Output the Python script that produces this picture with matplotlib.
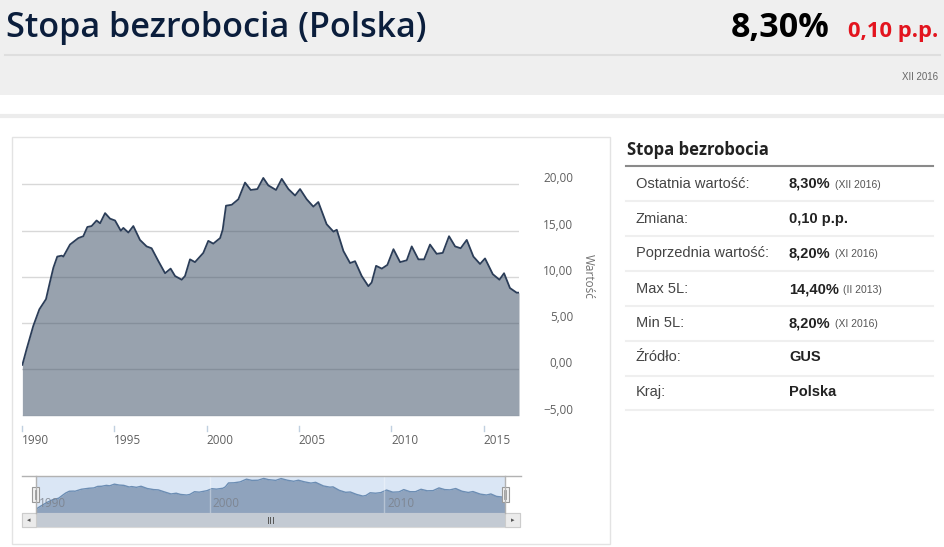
import matplotlib
matplotlib.use("Agg")
import matplotlib.pyplot as plt
from matplotlib.patches import Rectangle
from matplotlib.lines import Line2D
from matplotlib import transforms

W, H = 945, 547

# stopa bezrobocia w % (rok dziesietny)
years = [1990.02, 1990.25, 1990.61, 1990.94, 1991.30, 1991.52, 1991.70, 1991.91,
         1992.15, 1992.24, 1992.60, 1993.05, 1993.32, 1993.54, 1993.77, 1994.04,
         1994.23, 1994.50, 1994.77, 1995.04, 1995.35, 1995.49, 1995.76, 1996.03,
         1996.39, 1996.75, 1997.02, 1997.39, 1997.75, 1998.05, 1998.29, 1998.65,
         1998.83, 1999.10, 1999.37, 1999.82, 2000.09, 2000.36, 2000.73, 2000.87,
         2001.05, 2001.36, 2001.72, 2002.08, 2002.39, 2002.75, 2003.07, 2003.34,
         2003.76, 2004.07, 2004.43, 2004.79, 2005.06, 2005.42, 2005.78, 2006.05,
         2006.50, 2006.87, 2007.05, 2007.41, 2007.77, 2008.04, 2008.40, 2008.76,
         2008.94, 2009.18, 2009.49, 2009.79, 2010.12, 2010.48, 2010.84, 2011.11,
         2011.47, 2011.78, 2012.10, 2012.46, 2012.79, 2013.13, 2013.46, 2013.76,
         2014.09, 2014.45, 2014.81, 2015.08, 2015.50, 2015.86, 2016.11, 2016.43,
         2016.79, 2016.92]
rate = [0.5, 2.2, 4.7, 6.5, 7.6, 9.5, 11.0, 12.2,
        12.3, 12.2, 13.5, 14.2, 14.4, 15.4, 15.5, 16.1,
        15.8, 16.9, 16.3, 16.1, 15.0, 15.3, 14.8, 15.5,
        14.0, 13.3, 13.1, 11.7, 10.4, 10.9, 10.1, 9.7,
        10.1, 11.9, 11.6, 12.6, 13.9, 13.6, 14.2, 15.1,
        17.7, 17.8, 18.4, 20.2, 19.4, 19.5, 20.7, 19.9,
        19.4, 20.6, 19.5, 18.8, 19.5, 18.4, 17.6, 18.1,
        15.7, 14.9, 15.1, 12.8, 11.5, 11.7, 10.1, 9.0,
        9.4, 11.2, 10.9, 11.3, 13.0, 11.6, 11.8, 13.3,
        11.9, 11.9, 13.5, 12.5, 12.6, 14.4, 13.3, 13.1,
        14.0, 12.2, 11.4, 12.0, 10.3, 9.7, 10.4, 8.8,
        8.3, 8.3]

y_ticks = [-5, 0, 5, 10, 15, 20]
x_ticks = [1990, 1995, 2000, 2005, 2010, 2015]
nav_ticks = [1990, 2000, 2010]

table_labels = ["Ostatnia wartość:", "Zmiana:", "Poprzednia wartość:", "Max 5L:",
                "Min 5L:", "Źródło:", "Kraj:"]
table_values = ["8,30%", "0,10 p.p.", "8,20%", "14,40%", "8,20%", "GUS", "Polska"]
table_notes = ["(XII 2016)", "", "(XI 2016)", "(II 2013)", "(XI 2016)", "", ""]

fig = plt.figure(figsize=(W / 100, H / 100), dpi=100)
fig.patch.set_facecolor("white")


def box(x0, y0, x1, y1):
    return [x0 / W, 1 - y1 / H, (x1 - x0) / W, (y1 - y0) / H]


def rect(x0, y0, x1, y1, **kw):
    fig.add_artist(Rectangle((x0 / W, 1 - y1 / H), (x1 - x0) / W, (y1 - y0) / H,
                             transform=fig.transFigure, **kw))


def line(x0, y0, x1, y1, **kw):
    fig.add_artist(Line2D([x0 / W, x1 / W], [1 - y0 / H, 1 - y1 / H],
                          transform=fig.transFigure, **kw))


def text(x, y, s, **kw):
    return fig.text(x / W, 1 - y / H, s, **kw)


# naglowek
rect(0, 0, W, 95, facecolor="#efefef", edgecolor="none")
line(5, 55, 940, 55, color="#dedede", lw=1.5)
line(0, 116, W, 116, color="#ececec", lw=3)
text(6, 28, "Stopa bezrobocia (Polska)", fontsize=24.6, color="#0b1e3c",
     family="Open Sans", weight=600, va="center")
text(830, 28, "8,30%", fontsize=24.5, color="black", family="Open Sans",
     weight="bold", ha="right", va="center")
text(938, 32, "0,10 p.p.", fontsize=15.8, color="#e3141e", family="Open Sans",
     weight="bold", ha="right", va="center")
text(938, 77, "XII 2016", fontsize=7, color="#666666", family="Liberation Sans",
     ha="right", va="center")

# ramka wykresu
rect(12, 137, 610, 543.5, facecolor="none", edgecolor="#e3e3e3", lw=1)

# glowny wykres
ax = fig.add_axes(box(22, 160, 519, 415.7))
ax.set_xlim(1990.0, 2016.92)
ax.set_ylim(-5, 22.64)
for v in y_ticks:
    ax.axhline(v, color="#d8d8d8", lw=1, zorder=0)
ax.fill_between(years, rate, -5, color="#33475f", alpha=0.5, lw=0, zorder=1)
ax.plot(years, rate, color="#2b3d58", lw=1.3, zorder=2)
ax.axis("off")

ylab_tr = transforms.offset_copy(ax.get_yaxis_transform(), fig=fig, y=5.5, units="dots")
for v in y_ticks:
    ax.text((573 - 22) / 497, v, f"{v:.2f}".replace(".", ",").replace("-", "\u2212"),
            transform=ylab_tr, ha="right", va="center", fontsize=8.5,
            color="#606060", family="Open Sans")
text(588, 276, "Wartość", rotation=-90, ha="center", va="center", fontsize=8.5,
     color="#707070", family="Open Sans")

xt = ax.get_xaxis_transform()
for t in x_ticks:
    ax.plot([t, t], [(415.7 - 426) / 255.7, (415.7 - 431) / 255.7], transform=xt,
            color="#c0d0e0", lw=1, clip_on=False)
    ax.text(t, (415.7 - 440) / 255.7, str(t), transform=xt, ha="left", va="center",
            fontsize=8.5, color="#606060", family="Open Sans")

# nawigator
nav = fig.add_axes(box(36, 476, 505, 513))
nav.set_xlim(1990.0, 2016.92)
nav.set_ylim(-2.2, 22.3)
nav.set_facecolor("#dae6f5")
nav.fill_between(years, rate, -2.2, color="#8fa3bd", lw=0, zorder=1)
nav.plot(years, rate, color="#6c8db3", lw=1, zorder=2)
for t in nav_ticks[1:]:
    nav.axvline(t, color="white", alpha=0.35, lw=1, zorder=3)
for t in nav_ticks:
    nav.text(t + 0.15, 0.25, str(t), transform=nav.get_xaxis_transform(),
             ha="left", va="center", fontsize=8.5, color="#7a7f88", alpha=0.8,
             family="Open Sans", zorder=4)
nav.set_xticks([])
nav.set_yticks([])
for s in nav.spines.values():
    s.set_visible(False)

line(22, 476, 521, 476, color="#b2b2b2", lw=1)
line(36, 476, 36, 513, color="#b2b2b2", lw=1)
line(505, 476, 505, 513, color="#b2b2b2", lw=1)
for hx in (35.5, 505.5):
    rect(hx - 3.5, 487, hx + 3.5, 502, facecolor="#f2f2f2", edgecolor="#999999", lw=0.8)
    line(hx - 1, 490, hx - 1, 499, color="#999999", lw=0.6)
    line(hx + 1, 490, hx + 1, 499, color="#999999", lw=0.6)

# pasek przewijania
rect(22, 513, 520, 527, facecolor="#f2f2f2", edgecolor="#d8d8d8", lw=0.8)
rect(36, 513, 505, 527, facecolor="#c3cad3", edgecolor="none")
rect(22, 513, 36, 527, facecolor="#ebebeb", edgecolor="#cccccc", lw=0.8)
rect(505, 513, 520, 527, facecolor="#ebebeb", edgecolor="#cccccc", lw=0.8)
text(29, 520, "\u25c2", fontsize=5, color="#555555", ha="center", va="center")
text(512.5, 520, "\u25b8", fontsize=5, color="#555555", ha="center", va="center")
for gx in (268, 270.5, 273):
    line(gx, 517, gx, 523, color="#555555", lw=0.7)

# tabela po prawej
text(627, 150, "Stopa bezrobocia", fontsize=12, weight="bold", color="#222222",
     family="Open Sans", va="center")
line(626, 166, 933, 166, color="#8a8a8a", lw=1.5)
row_y = [184, 219, 253, 289, 323, 357, 392]
sep_y = [201, 236, 271, 306, 341, 376, 410]
for y in sep_y:
    line(626, y, 933, y, color="#efefef", lw=1.5)

fig.canvas.draw()
renderer = fig.canvas.get_renderer()
for lab, val, note, y in zip(table_labels, table_values, table_notes, row_y):
    text(636, y, lab, fontsize=10.5, color="#444444", family="Liberation Sans",
         va="center")
    tv = text(789, y, val, fontsize=10.5, color="#222222", weight="bold",
              family="Liberation Sans", va="center")
    if note:
        ext = tv.get_window_extent(renderer)
        text(ext.x1 + 4, y + 1, note, fontsize=7.5, color="#555555",
             family="Liberation Sans", va="center")

fig.savefig("out.png", dpi=100)
